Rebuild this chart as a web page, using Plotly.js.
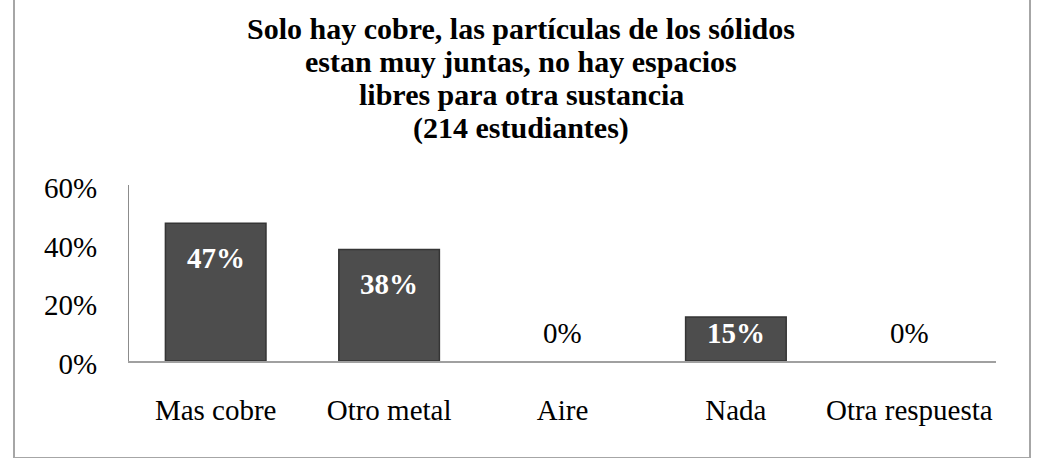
<!DOCTYPE html>
<html>
<head>
<meta charset="utf-8">
<script src="https://cdn.plot.ly/plotly-3.0.1.min.js"></script>
<style>
html,body{margin:0;padding:0;background:#fff;overflow:hidden;}
#frame{position:absolute;left:13px;top:-3px;width:1014px;height:458px;border:2px solid #a6a6a6;}
#chart{position:absolute;left:0;top:0;width:1038px;height:458px;}
</style>
</head>
<body>
<div id="frame"></div>
<div id="chart"></div>
<script>
const categories = ["Mas cobre", "Otro metal", "Aire", "Nada", "Otra respuesta"];
const values = [47, 38, 0, 15, 0];
const labels = ["47%", "38%", "0%", "15%", "0%"];
const yTicks = [0, 20, 40, 60];
const yTickText = ["0%", "20%", "40%", "60%"];
const titleLines = [
  "Solo hay cobre, las partículas de los sólidos",
  "estan muy juntas, no hay espacios",
  "libres para otra sustancia",
  "(214 estudiantes)"
];

const serif = "Liberation Serif, Times New Roman, serif";
const W = 1038, H = 458;
const M = {l: 129, r: 42, t: 185, b: 97};
const pyToPaper = p => (H - M.b - p) / (H - M.t - M.b);
const pxToPaper = p => (p - M.l) / (W - M.l - M.r);

const trace = {
  type: "bar",
  x: categories,
  y: values,
  width: 0.58,
  marker: {
    color: "#4d4d4d",
    line: {color: "#353535", width: values.map(v => v > 0 ? 1.5 : 0)}
  },
  hoverinfo: "none"
};

const dataLabels = values.map((v, i) => ({
  x: categories[i],
  y: Math.max(v - 11.9, 9.4),
  xref: "x", yref: "y",
  text: labels[i],
  showarrow: false,
  yanchor: "middle",
  font: {family: serif, size: 29, color: v > 0 ? "#ffffff" : "#000000", weight: v > 0 ? "bold" : "normal"}
}));

const titleAnns = titleLines.map((t, i) => ({
  x: pxToPaper(521), xref: "paper", xanchor: "center",
  y: pyToPaper(29 + 33 * i), yref: "paper", yanchor: "middle",
  text: t, showarrow: false,
  font: {family: serif, size: 30, color: "#000", weight: "bold"}
}));

const layout = {
  width: W, height: H,
  margin: M,
  paper_bgcolor: "rgba(0,0,0,0)",
  plot_bgcolor: "rgba(0,0,0,0)",
  showlegend: false,
  xaxis: {
    showgrid: false, zeroline: false,
    showline: true, linecolor: "#a0a0a0", linewidth: 2,
    ticks: "", ticklabelstandoff: 22,
    tickfont: {family: serif, size: 29, color: "#000"},
    fixedrange: true
  },
  yaxis: {
    range: [0, 60],
    tickvals: yTicks, ticktext: yTickText,
    showgrid: false, zeroline: false,
    showline: true, linecolor: "#8c8c8c", linewidth: 1,
    ticks: "", ticklabelstandoff: 25, ticklabelshift: 3,
    tickfont: {family: serif, size: 29, color: "#000"},
    fixedrange: true
  },
  annotations: titleAnns.concat(dataLabels)
};

Plotly.newPlot("chart", [trace], layout, {displayModeBar: false, staticPlot: true});
</script>
</body>
</html>
